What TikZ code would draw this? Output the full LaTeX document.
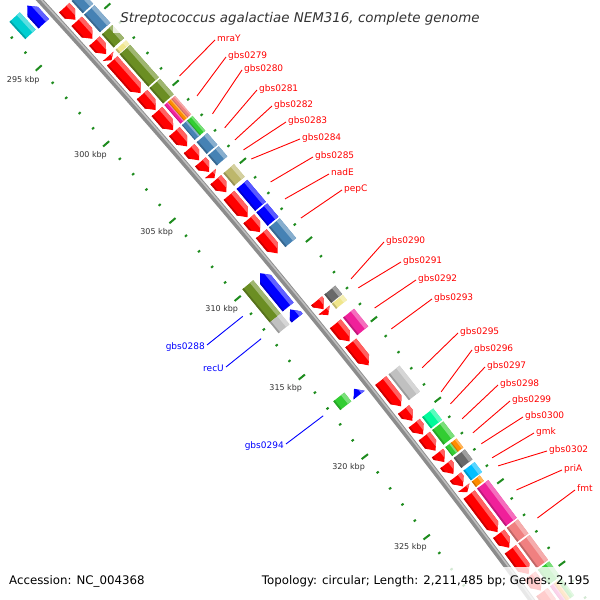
\documentclass[tikz,border=0pt]{standalone}
\usepackage{fontspec}
\setmainfont{DejaVu Sans}
\definecolor{cgred}{HTML}{FF0000}
\definecolor{cgsteel}{HTML}{4682B4}
\definecolor{cgolive}{HTML}{6B8E23}
\definecolor{cgkhaki}{HTML}{BDB76B}
\definecolor{cgpale}{HTML}{F0E68C}
\definecolor{cgblue}{HTML}{0000FF}
\definecolor{cgpink}{HTML}{F0209A}
\definecolor{cgcoral}{HTML}{F08080}
\definecolor{cgorange}{HTML}{FF8C00}
\definecolor{cggreen}{HTML}{32CD32}
\definecolor{cgmint}{HTML}{00FA9A}
\definecolor{cgdgray}{HTML}{696969}
\definecolor{cglgray}{HTML}{C0C0C0}
\definecolor{cgsky}{HTML}{00BFFF}
\definecolor{cgcyan}{HTML}{00CED1}
\definecolor{cgtick}{HTML}{1E8C1E}
\definecolor{cgback}{HTML}{8C8C8C}
\definecolor{cgbackl}{HTML}{BEBEBE}
\definecolor{cgtxt}{HTML}{333333}
% position on the map: #1 = kbp, #2 = radial offset (px) from inner ruler
\newcommand\cgx[2]{\fpeval{round(-5267+(7144+(#2))*cosd(-42.04+((#1)-295)*0.162789),3)}}
\newcommand\cgy[2]{\fpeval{round(-4252-(7144+(#2))*sind(-42.04+((#1)-295)*0.162789),3)}}
\newcommand\cgpt[3]{\edef\cgtmpx{\cgx{#2}{#3}}\edef\cgtmpy{\cgy{#2}{#3}}\coordinate (#1) at (\cgtmpx,\cgtmpy);}
% shaded box: k1 k2 rin rout colour
\newcommand\cgbox[5]{%
  \cgpt{q1}{#1}{#3}\cgpt{q2}{#2}{#3}\cgpt{q3}{#2}{#4}\cgpt{q4}{#1}{#4}%
  \fill[#5] (q1)--(q2)--(q3)--(q4)--cycle;
  \cgpt{q5}{#1}{(#3)+0.7*((#4)-(#3))}\cgpt{q6}{#2}{(#3)+0.7*((#4)-(#3))}%
  \fill[#5!65!white] (q5)--(q6)--(q3)--(q4)--cycle;
  \cgpt{q7}{#1}{(#3)+0.12*((#4)-(#3))}\cgpt{q8}{#2}{(#3)+0.12*((#4)-(#3))}%
  \fill[#5!80!black] (q1)--(q2)--(q8)--(q7)--cycle;
}
\newcommand\cgshade[5]{%
  \fill[#5] (a1)--(a2)--(a3)--(a4)--(a5)--cycle;
  \begin{scope}
    \clip (a1)--(a2)--(a3)--(a4)--(a5)--cycle;
    \cgpt{s1}{(#1)-0.2}{(#3)+0.4*(#4)}\cgpt{s2}{(#2)+0.2}{(#3)+0.4*(#4)}%
    \cgpt{s3}{(#2)+0.2}{(#3)+(#4)+2}\cgpt{s4}{(#1)-0.2}{(#3)+(#4)+2}%
    \fill[#5!62!white] (s1)--(s2)--(s3)--(s4)--cycle;
    \cgpt{s5}{(#1)-0.2}{(#3)-0.76*(#4)}\cgpt{s6}{(#2)+0.2}{(#3)-0.76*(#4)}%
    \cgpt{s7}{(#2)+0.2}{(#3)-(#4)-2}\cgpt{s8}{(#1)-0.2}{(#3)-(#4)-2}%
    \fill[#5!80!black] (s5)--(s6)--(s7)--(s8)--cycle;
  \end{scope}
}
% forward arrow: k1 k2(tip) rc halfwidth colour
\newcommand\cgfarr[5]{%
  \edef\cgkn{\fpeval{max(#1,(#2)-0.4)}}%
  \cgpt{a1}{#1}{(#3)-(#4)}\cgpt{a2}{\cgkn}{(#3)-(#4)}\cgpt{a3}{#2}{#3}%
  \cgpt{a4}{\cgkn}{(#3)+(#4)}\cgpt{a5}{#1}{(#3)+(#4)}%
  \cgshade{#1}{#2}{#3}{#4}{#5}}
% reverse arrow: k1(tip) k2 rc halfwidth colour
\newcommand\cgrarr[5]{%
  \edef\cgkn{\fpeval{min(#2,(#1)+0.4)}}%
  \cgpt{a1}{#2}{(#3)-(#4)}\cgpt{a2}{\cgkn}{(#3)-(#4)}\cgpt{a3}{#1}{#3}%
  \cgpt{a4}{\cgkn}{(#3)+(#4)}\cgpt{a5}{#2}{(#3)+(#4)}%
  \cgshade{#1}{#2}{#3}{#4}{#5}}
% forward gene: red arrow + coloured box
\newcommand\fg[3]{\cgfarr{#1}{#2}{59.5}{7}{cgred}\cgbox{#1}{#2}{69.5}{83.5}{#3}}
\newcommand\fa[2]{\cgfarr{#1}{#2}{59.5}{7}{cgred}}
% labels
\newcommand\cglab[5]{%
  \cgpt{#1g}{#2}{100}\coordinate (#1t) at (#3,600-#4);
  \draw[redlab] (#1t) -- (#1g);
  \node[redtxt, anchor=base west] (#1) at ([xshift=2,yshift=-1.3]#1t) {#5};}
\newcommand\cgblab[5]{%
  \cgpt{#1g}{#2}{-7.5}\coordinate (#1t) at (#3,600-#4);
  \draw[bluelab] (#1t) -- (#1g);
  \node[bluetxt, anchor=base east] (#1) at ([xshift=-2,yshift=-5]#1t) {#5};}
\tikzset{
  redlab/.style={draw=cgred, line width=0.9},
  bluelab/.style={draw=cgblue, line width=0.9},
  redtxt/.style={text=cgred, inner sep=0, font=\fontsize{9}{10}\selectfont},
  bluetxt/.style={text=cgblue, inner sep=0, font=\fontsize{9}{10}\selectfont},
  tickmaj/.style={draw=cgtick, line width=2},
  tickmin/.style={draw=cgtick, line width=2},
  ticklab/.style={text=cgtxt, inner sep=0, font=\fontsize{8}{9}\selectfont},
  foot/.style={text=black, inner sep=0, font=\fontsize{11.8}{13}\selectfont},
  titletxt/.style={text=cgtxt, inner sep=0, font=\fontsize{13.4}{15}\selectfont\itshape},
  legbox/.style={fill=white, fill opacity=0.8, draw=none}
}
\begin{document}
\begin{tikzpicture}[x=1pt,y=1pt]
\useasboundingbox (0,0) rectangle (600,600);
\clip (0,0) rectangle (600,600);
\fill[white] (0,0) rectangle (600,600);
% rulers
\foreach \k in {288,...,334}{
  \pgfmathtruncatemacro\cgm{mod(\k,5)}
  \ifnum\cgm=0
    \cgpt{ta}{\k}{-4}\cgpt{tb}{\k}{4}\draw[tickmaj] (ta)--(tb);
    \cgpt{tc}{\k}{88.5}\cgpt{td}{\k}{96.5}\draw[tickmaj] (tc)--(td);
  \else
    \cgpt{ta}{\k}{-0.8}\cgpt{tb}{\k}{1.8}\draw[tickmin] (ta)--(tb);
    \cgpt{tc}{\k}{89.8}\cgpt{td}{\k}{92.4}\draw[tickmin] (tc)--(td);
  \fi
}
\foreach \k in {295,300,...,325}{
  \cgpt{te\k}{(\k)-0.07}{-19.5}\node[ticklab] (tl\k) at (te\k) {\k\ kbp};
}
% backbone
\foreach \k in {288,...,334}{\cgpt{bb\k}{\k}{46.5}\cgpt{bl\k}{\k}{47.8}}
\draw[cgback, line width=6] (bb288) \foreach \k in {289,...,334}{--(bb\k)};
\draw[cgbackl, line width=1.6] (bl288) \foreach \k in {289,...,334}{--(bl\k)};
% forward genes
\cgbox{292.6}{293.55}{69.5}{83.5}{cgkhaki}
\fg{293.65}{294.45}{cgsteel}
\fg{294.55}{295.7}{cgsteel}
\fg{295.85}{296.7}{cgolive}
\fg{296.85}{297.1}{cgpale}
\fg{297.15}{299.25}{cgolive}
\fg{299.35}{300.35}{cgolive}
\fa{300.45}{301.65}
\cgbox{300.45}{301.65}{69.5}{74.2}{cgpink}
\cgbox{300.45}{301.65}{74.2}{78.8}{cgorange}
\cgbox{300.45}{301.65}{78.8}{83.5}{cgcoral}
\fa{301.75}{302.7}
\cgbox{301.75}{302.7}{69.5}{76.5}{cgsteel}
\cgbox{301.75}{302.7}{76.5}{83.5}{cggreen}
\fg{302.85}{303.6}{cgsteel}
\fg{303.7}{304.35}{cgsteel}
\fa{304.45}{304.75}
\fg{304.85}{305.65}{cgkhaki}
\fg{305.85}{307.25}{cgblue}
\fg{307.35}{308.2}{cgblue}
\fg{308.3}{309.55}{cgsteel}
\fg{312.55}{313.08}{cgdgray}
\fg{313.13}{313.45}{cgpale}
\fg{314.0}{315.1}{cgpink}
\fa{315.2}{316.6}
\fg{317.55}{319.15}{cglgray}
\fa{319.35}{320.05}
\fg{320.2}{320.9}{cgmint}
\fg{321.0}{321.9}{cggreen}
\fa{322.05}{322.6}
\cgbox{322.05}{322.6}{69.5}{76.5}{cggreen}
\cgbox{322.05}{322.6}{76.5}{83.5}{cgorange}
\fg{322.72}{323.33}{cgdgray}
\fg{323.5}{324.1}{cgsky}
\fa{324.17}{324.45}
\cgbox{324.17}{324.5}{69.5}{79.5}{cgorange}
\fg{324.6}{326.9}{cgpink}
\fg{327.0}{327.85}{cgcoral}
\fg{327.95}{329.45}{cgcoral}
\fg{329.55}{330.45}{cggreen}
\fa{330.55}{331.6}
\cgbox{330.55}{331.6}{69.5}{74.2}{cgpink}
\cgbox{330.55}{331.6}{74.2}{78.8}{cgorange}
\cgbox{330.55}{331.6}{78.8}{83.5}{cggreen}
% reverse genes
\cgbox{292.35}{293.5}{9.5}{23.5}{cgcyan}
\cgrarr{292.35}{293.55}{33.5}{7}{cgblue}
\cgbox{309.8}{311.92}{9.5}{23.5}{cgolive}
\cgbox{311.92}{312.6}{9.5}{23.5}{cglgray}
\cgrarr{309.75}{311.9}{33.5}{7}{cgblue}
\cgrarr{312.05}{312.6}{33.5}{7}{cgblue}
\cgbox{316.9}{317.45}{9.5}{23.5}{cggreen}
\cgrarr{317.05}{317.45}{33.5}{7}{cgblue}
% labels
\cglab{lmraY}{299.87}{215}{40}{mraY}
\cglab{l279}{301.16}{226}{57}{gbs0279}
\cglab{l280}{302.31}{242}{70}{gbs0280}
\cglab{l281}{303.21}{257}{90}{gbs0281}
\cglab{l282}{303.98}{272}{106}{gbs0282}
\cglab{l283}{304.62}{286}{122}{gbs0283}
\cglab{l284}{305.2}{300}{139}{gbs0284}
\cglab{l285}{306.66}{313}{157}{gbs0285}
\cglab{lnadE}{307.74}{329}{174}{nadE}
\cglab{lpepC}{308.95}{342}{190}{pepC}
\cglab{l290}{312.78}{384}{242}{gbs0290}
\cglab{l291}{313.34}{401}{262}{gbs0291}
\cglab{l292}{314.6}{416}{280}{gbs0292}
\cglab{l293}{315.9}{432}{299}{gbs0293}
\cglab{l295}{318.31}{458}{333}{gbs0295}
\cglab{l296}{319.8}{472}{350}{gbs0296}
\cglab{l297}{320.54}{485}{367}{gbs0297}
\cglab{l298}{321.46}{498}{385}{gbs0298}
\cglab{l299}{322.32}{510}{401}{gbs0299}
\cglab{l300}{322.99}{523}{417}{gbs0300}
\cglab{lgmk}{323.85}{534}{433}{gmk}
\cglab{l302}{324.34}{547}{451}{gbs0302}
\cglab{lpriA}{325.81}{562}{470}{priA}
\cglab{lfmt}{327.51}{575}{490}{fmt}
\cgblab{l288}{310.84}{207}{345}{gbs0288}
\cgblab{lrecU}{312.27}{226}{367}{recU}
\cgblab{l294}{317.15}{286}{444}{gbs0294}
% legends
\fill[legbox] (113,567) rectangle (487,598);
\node[titletxt, anchor=base] (title) at (300,577) {Streptococcus agalactiae NEM316, complete genome};
\fill[legbox] (0,0) rectangle (160,33);
\fill[legbox] (255,0) rectangle (600,33);
\node[foot, anchor=base west] (acc) at (9,15) {Accession: NC\_004368};
\node[foot, anchor=base east] (topo) at (590,15) {Topology: circular; Length: 2,211,485 bp; Genes: 2,195};
\end{tikzpicture}
\end{document}
